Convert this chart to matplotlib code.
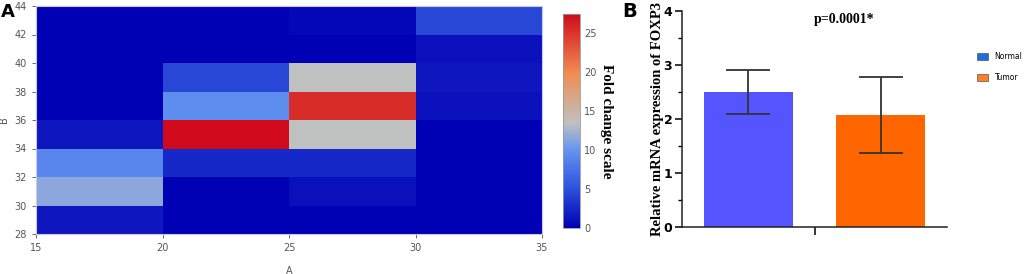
import numpy as np
import matplotlib
matplotlib.use("Agg")
import matplotlib.pyplot as plt
from matplotlib.colors import LinearSegmentedColormap
from matplotlib.patches import Patch

# heatmap data: bins along A (x) and B (y)
a_edges = [15, 20, 25, 30, 35]
b_edges = [28, 30, 32, 34, 36, 38, 40, 42, 44]
# rows = B bins from 28-30 upward, columns = A bins
fold_change = [
    [1.5, 0.0, 0.0, 0.0],
    [11.5, 0.0, 1.0, 0.0],
    [9.0, 2.5, 2.5, 0.0],
    [1.5, 27.5, 13.5, 0.0],
    [0.0, 9.5, 25.5, 1.0],
    [0.0, 4.5, 13.5, 1.5],
    [0.0, 0.0, 0.0, 1.0],
    [0.0, 0.0, 0.5, 4.5],
]
cbar_ticks = [0, 5, 10, 15, 20, 25]

# bar chart data
groups = ["Normal", "Tumor"]
means = [2.5, 2.07]
errs = [0.4, 0.7]
bar_colors = ["#5555ff", "#ff6600"]
legend_colors = ["#1f6fd8", "#ff7f27"]

vmax = 27.5
cmap = LinearSegmentedColormap.from_list("fold", [
    (0.0, "#0000b4"),
    (5 / vmax, "#2d50dc"),
    (10 / vmax, "#6494f2"),
    (13.5 / vmax, "#c0c0c0"),
    (20 / vmax, "#f08c50"),
    (1.0, "#d00a1c"),
])

W, H = 1024, 274
fig = plt.figure(figsize=(W / 100, H / 100), dpi=100)

def box(l, t, r, b):
    return [l / W, 1 - b / H, (r - l) / W, (b - t) / H]

# ---- panel A ----
ax = fig.add_axes(box(36, 6, 542, 234))
mesh = ax.pcolormesh(a_edges, b_edges, np.array(fold_change), cmap=cmap, vmin=0, vmax=vmax)
ax.set_xticks(a_edges)
ax.set_yticks(b_edges)
ax.tick_params(labelsize=7, colors="#555555", length=3, width=0.6)
for s in ax.spines.values():
    s.set_color("#c8c8f0")
    s.set_linewidth(0.8)
ax.set_xlabel("A", fontsize=7, color="#555555", labelpad=9)
ax.set_ylabel("B", fontsize=7, color="#555555", labelpad=4)

cax = fig.add_axes(box(563, 14, 580, 228))
cb = fig.colorbar(mesh, cax=cax, ticks=cbar_ticks)
cb.outline.set_edgecolor("#999999")
cb.outline.set_linewidth(0.6)
cax.tick_params(labelsize=7, colors="#555555", length=0, pad=3)
cb.set_label("Fold change scale", family="Liberation Serif", fontweight="bold",
             fontsize=11, rotation=-90, labelpad=12)

fig.text(1 / W, 1 - 3 / H, "A", fontsize=13, fontweight="bold", va="top", ha="left")
fig.text(622 / W, 1 - 2 / H, "B", fontsize=14, fontweight="bold", va="top", ha="left")

# ---- panel B ----
bx = fig.add_axes(box(682, 11, 947, 227))
x = np.arange(len(groups))
bx.bar(x, means, width=0.67, color=bar_colors)
bx.errorbar(x, means, yerr=errs, fmt="none", ecolor="#333333", elinewidth=1.3,
            capsize=16, capthick=1.3)
bx.set_xlim(-0.5, 1.5)
bx.set_ylim(0, 4)
bx.set_xticks([0.5])
bx.set_xticklabels([""])
bx.set_yticks([0, 1, 2, 3, 4])
bx.set_yticks(np.arange(0.5, 4, 1), minor=True)
bx.tick_params(axis="y", which="major", length=5, width=1.1, labelsize=9, pad=2)
bx.tick_params(axis="y", which="minor", length=3, width=1.0)
bx.tick_params(axis="x", length=6, width=1.1)
for lbl in bx.get_yticklabels():
    lbl.set_fontweight("bold")
for s in ["top", "right"]:
    bx.spines[s].set_visible(False)
for s in ["left", "bottom"]:
    bx.spines[s].set_linewidth(1.1)
    bx.spines[s].set_color("#222222")
bx.set_ylabel("Relative mRNA expression of FOXP3",
              family="Liberation Serif", fontweight="bold", fontsize=10.5, labelpad=0)
bx.text(0.72, 3.85, "p=0.0001*", family="Liberation Serif", fontweight="bold",
        fontsize=10, ha="center", va="center")

handles = [Patch(facecolor=c, edgecolor="#555555", linewidth=0.5) for c in legend_colors]
fig.legend(handles, groups, loc="upper left", bbox_to_anchor=(977 / W, 1 - 52 / H),
           frameon=False, fontsize=5.5, handlelength=1.5, handleheight=0.9,
           labelspacing=1.6, handletextpad=0.8, borderpad=0, borderaxespad=0)

fig.savefig("out.png", dpi=100)
